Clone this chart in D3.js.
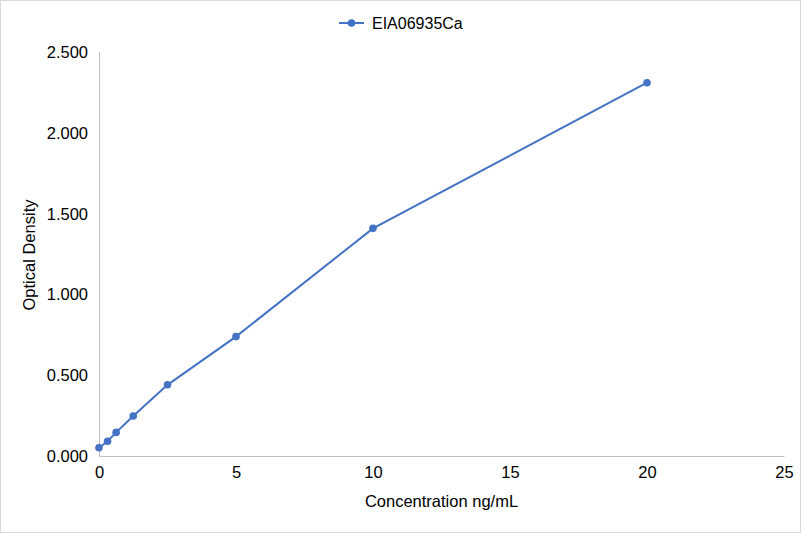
<!DOCTYPE html>
<html><head><meta charset="utf-8">
<script src="https://cdn.jsdelivr.net/npm/d3@7"></script>
<style>body{margin:0;background:#fff}svg{display:block}</style>
</head><body>
<svg id="c" width="801" height="533"></svg>
<script>
const seriesName = "EIA06935Ca";
const concentrations = [0, 0.3125, 0.625, 1.25, 2.5, 5, 10, 20];
const densities = [0.051, 0.091, 0.146, 0.247, 0.440, 0.738, 1.407, 2.307];
const xTicks = [0, 5, 10, 15, 20, 25];
const yTicks = [0, 0.5, 1.0, 1.5, 2.0, 2.5];
const xTitle = "Concentration ng/mL";
const yTitle = "Optical Density";

const svg = d3.select("#c");
const W = 801, H = 533;
const font = "Liberation Sans, Arial, sans-serif";
const color = "#4472c4";
svg.append("rect").attr("x",0.5).attr("y",0.5).attr("width",W-1).attr("height",H-1)
  .attr("fill","#fff").attr("stroke","#d9d9d9");

const x = d3.scaleLinear().domain([0,25]).range([99,784]);
const y = d3.scaleLinear().domain([0,2.5]).range([456,51.5]);

const xa = svg.append("g").attr("transform","translate(0,456)")
  .call(d3.axisBottom(x).tickValues(xTicks).tickSize(0).tickPadding(10).tickFormat(d3.format("d")));
const ya = svg.append("g").attr("transform","translate(99,0)")
  .call(d3.axisLeft(y).tickValues(yTicks).tickSize(0).tickPadding(11).tickFormat(d3.format(".3f")));
[xa,ya].forEach(a=>{
  a.select(".domain").attr("stroke","#bfbfbf").attr("stroke-width",1);
  a.selectAll("text").attr("font-family",font).attr("font-size",16.5).attr("fill","#000");
});
ya.selectAll("text").attr("dy","0.35em");

const pts = concentrations.map((c,i)=>[c,densities[i]]);
svg.append("path").datum(pts)
  .attr("fill","none").attr("stroke",color).attr("stroke-width",2)
  .attr("d", d3.line().x(d=>x(d[0])).y(d=>y(d[1])));
svg.selectAll("circle.pt").data(pts).join("circle").attr("class","pt")
  .attr("cx",d=>x(d[0])).attr("cy",d=>y(d[1])).attr("r",3.8).attr("fill",color);

svg.append("text").attr("x",441.5).attr("y",507).attr("text-anchor","middle")
  .attr("font-family",font).attr("font-size",16.5).text(xTitle);
svg.append("text").attr("transform","translate(35,255) rotate(-90)").attr("text-anchor","middle")
  .attr("font-family",font).attr("font-size",16.5).text(yTitle);

// legend
const lg = svg.append("g");
lg.append("line").attr("x1",339).attr("x2",364).attr("y1",23).attr("y2",23)
  .attr("stroke",color).attr("stroke-width",2);
lg.append("circle").attr("cx",351.5).attr("cy",23).attr("r",3.8).attr("fill",color);
lg.append("text").attr("x",372).attr("y",29).attr("font-family",font).attr("font-size",16)
  .text(seriesName);
</script>
</body></html>
